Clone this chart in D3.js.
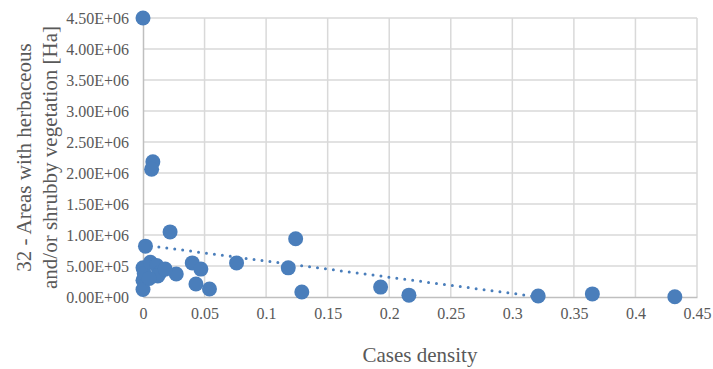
<!DOCTYPE html>
<html>
<head>
<meta charset="utf-8">
<script src="https://cdn.jsdelivr.net/npm/d3@7/dist/d3.min.js"></script>
<style>
  html, body { margin: 0; padding: 0; background: #fff; }
  svg { display: block; font-family: "Liberation Serif", "Times New Roman", serif; }
</style>
</head>
<body>
<svg id="chart" width="713" height="369"></svg>
<script>
// Cases density (x) values
const casesDensity = [
  0, 0.008, 0.007, 0.022, 0.124, 0.002, 0.076, 0.118, 0.129, 0.193, 0.216, 0.321, 0.365, 0.432,
  0, 0, 0, 0.001, 0.006, 0.011, 0.014, 0.012, 0.027, 0.005, 0.018, 0.040, 0.047, 0.043, 0.054
];
// Areas with herbaceous and/or shrubby vegetation [Ha]
const areaHa = [
  4.50e6, 2.18e6, 2.06e6, 1.05e6, 0.94e6, 0.82e6, 0.55e6, 0.47e6, 0.08e6, 0.16e6, 0.03e6, 0.015e6, 0.05e6, 0.005e6,
  0.47e6, 0.27e6, 0.12e6, 0.38e6, 0.56e6, 0.51e6, 0.40e6, 0.34e6, 0.37e6, 0.30e6, 0.45e6, 0.55e6, 0.45e6, 0.21e6, 0.13e6
];
const xTicks = [0, 0.05, 0.1, 0.15, 0.2, 0.25, 0.3, 0.35, 0.4, 0.45];
const yTicks = [0, 0.5e6, 1.0e6, 1.5e6, 2.0e6, 2.5e6, 3.0e6, 3.5e6, 4.0e6, 4.5e6];
const xTitle = "Cases density";
const yTitleLines = ["32 - Areas with herbaceous", "and/or shrubby vegetation [Ha]"];

const blue = "#4a7ebb";
const serif = '"Liberation Serif", "Times New Roman", serif';
const svg = d3.select("#chart").attr("font-family", serif).attr("font-size", 16);
const m = { left: 143, right: 697, top: 18, bottom: 297 };

const x = d3.scaleLinear().domain([0, 0.45]).range([m.left, m.right]);
const y = d3.scaleLinear().domain([0, 4.5e6]).range([m.bottom, m.top]);

// gridlines
const grid = svg.append("g");
grid.selectAll("line.h").data(yTicks.filter(d => d > 0)).enter().append("line")
  .attr("x1", m.left).attr("x2", m.right)
  .attr("y1", d => y(d)).attr("y2", d => y(d))
  .attr("stroke", "#d9d9d9").attr("stroke-width", 1.5);
grid.selectAll("line.v").data(xTicks.filter(d => d > 0)).enter().append("line")
  .attr("y1", m.top).attr("y2", m.bottom)
  .attr("x1", d => x(d)).attr("x2", d => x(d))
  .attr("stroke", "#d9d9d9").attr("stroke-width", 1.5);

const fixTicks = g => {
  g.attr("font-family", null).attr("font-size", null);
  g.select(".domain").attr("stroke", "#bfbfbf").attr("stroke-width", 1.5);
  g.selectAll(".tick text")
    .attr("font-family", serif).attr("font-size", 16)
    .style("font-family", serif).style("font-size", "16px")
    .attr("fill", "#595959");
};

// x axis
const xAxis = d3.axisBottom(x).tickValues(xTicks).tickSize(0).tickPadding(11)
  .tickFormat(d => d === 0 ? "0" : String(+d.toFixed(2)));
const gx = svg.append("g").attr("transform", `translate(0,${m.bottom})`).call(xAxis);
fixTicks(gx);

// y axis
const yFmt = d => {
  const e = d === 0 ? 0 : Math.floor(Math.log10(d));
  const mant = d === 0 ? 0 : d / Math.pow(10, e);
  return mant.toFixed(2) + "E+" + String(e).padStart(2, "0");
};
const yAxis = d3.axisLeft(y).tickValues(yTicks).tickSize(0).tickPadding(14).tickFormat(yFmt);
const gy = svg.append("g").attr("transform", `translate(${m.left},0)`).call(yAxis);
fixTicks(gy);

// linear trendline (least squares), ended where it reaches y = 0 at the plot bottom
const n = casesDensity.length;
const mx = d3.mean(casesDensity), my = d3.mean(areaHa);
let sxy = 0, sxx = 0;
for (let i = 0; i < n; i++) { sxy += (casesDensity[i] - mx) * (areaHa[i] - my); sxx += (casesDensity[i] - mx) ** 2; }
const slope = sxy / sxx, intercept = my - slope * mx;
const xmin = d3.min(casesDensity), xmax = d3.max(casesDensity);
let xEnd = xmax;
if (intercept + slope * xEnd < 0) xEnd = -intercept / slope;
svg.append("line")
  .attr("x1", x(xmin)).attr("y1", y(intercept + slope * xmin))
  .attr("x2", x(xEnd)).attr("y2", y(intercept + slope * xEnd))
  .attr("stroke", blue).attr("stroke-width", 3)
  .attr("stroke-dasharray", "0,8").attr("stroke-linecap", "round");

// points
svg.append("g").selectAll("circle").data(casesDensity.map((d, i) => [d, areaHa[i]]))
  .enter().append("circle")
  .attr("cx", d => x(d[0])).attr("cy", d => y(d[1])).attr("r", 7.5)
  .attr("fill", blue);

// titles
svg.append("text").attr("x", (m.left + m.right) / 2).attr("y", 362)
  .attr("text-anchor", "middle").attr("font-family", serif).attr("font-size", 21)
  .attr("fill", "#595959").text(xTitle);
const yt = svg.append("text").attr("transform", `translate(24,${(m.top + m.bottom) / 2}) rotate(-90)`)
  .attr("text-anchor", "middle").attr("font-family", serif).attr("font-size", 21)
  .attr("fill", "#595959");
yTitleLines.forEach((t, i) => {
  yt.append("tspan").attr("x", 0).attr("dy", i === 0 ? "0.35em" : "1.22em").text(t);
});
</script>
</body>
</html>
